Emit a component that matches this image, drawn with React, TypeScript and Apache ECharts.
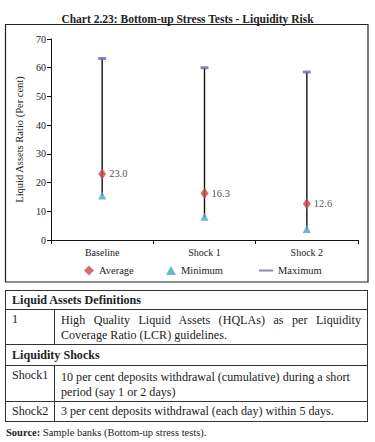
import React, { useEffect, useRef } from "react";
import * as echarts from "echarts";

const titleText = "Chart 2.23: Bottom-up Stress Tests - Liquidity Risk";
const categories = ["Baseline", "Shock 1", "Shock 2"];
const averageValues = [23.0, 16.3, 12.6];
const minimumValues = [15.5, 8.1, 3.8];
const maximumValues = [63.2, 60.0, 58.5];
const yAxisName = "Liquid Assets Ratio (Per cent)";

const definitionsHeader = "Liquid Assets Definitions";
const definitionRows = [["1", "High Quality Liquid Assets (HQLAs) as per Liquidity Coverage Ratio (LCR) guidelines."]];
const shocksHeader = "Liquidity Shocks";
const shockRows = [
  ["Shock1", "10 per cent deposits withdrawal (cumulative) during a short period (say 1 or 2 days)"],
  ["Shock2", "3 per cent deposits withdrawal (each day) within 5 days."],
];
const sourceLabel = "Source:";
const sourceText = " Sample banks (Bottom-up stress tests).";

const FONT = "'Liberation Serif', 'DejaVu Serif', serif";
const RED = "#C8474A";
const CYAN = "#3FA9C5";
const PURPLE = "#7A62A5";

const legendText = { fontFamily: FONT, fontSize: 10.5, color: "#222" };

export default function App() {
  const ref = useRef<HTMLDivElement>(null);
  useEffect(() => {
    if (!ref.current) return;
    const chart = echarts.init(ref.current, null, { renderer: "svg" });
    chart.setOption({
      animation: false,
      textStyle: { fontFamily: FONT },
      title: {
        text: titleText,
        left: "center",
        top: 8,
        textStyle: { fontFamily: FONT, fontSize: 11.5, fontWeight: "bold", color: "#222" },
      },
      graphic: [
        {
          type: "rect",
          shape: { x: 5.5, y: 24.5, width: 362.5, height: 257.5 },
          style: { fill: "none", stroke: "#222", lineWidth: 1.2 },
          silent: true,
        },
      ],
      grid: { left: 51, right: 17, top: 39, bottom: 48 },
      legend: [
        {
          top: 265,
          left: 84,
          padding: 0,
          itemWidth: 10,
          itemHeight: 10,
          textStyle: legendText,
          data: [{ name: "Average", icon: "diamond" }],
        },
        {
          top: 265,
          left: 166,
          padding: 0,
          itemWidth: 10,
          itemHeight: 9,
          textStyle: legendText,
          data: [{ name: "Minimum", icon: "triangle" }],
        },
        {
          top: 265,
          left: 259,
          padding: 0,
          itemWidth: 14,
          itemHeight: 10,
          textStyle: legendText,
          data: [{ name: "Maximum", icon: "path://M0,4 L14,4 L14,6 L0,6 Z" }],
        },
      ],
      xAxis: {
        type: "category",
        data: categories,
        axisLine: { lineStyle: { color: "#111", width: 1 } },
        axisTick: { show: true, length: 4, lineStyle: { color: "#111" } },
        axisLabel: { fontFamily: FONT, fontSize: 10, color: "#222", margin: 7 },
      },
      yAxis: {
        type: "value",
        min: 0,
        max: 70,
        interval: 10,
        name: yAxisName,
        nameLocation: "middle",
        nameGap: 21,
        nameTextStyle: { fontFamily: FONT, fontSize: 10.5, color: "#222" },
        splitLine: { show: false },
        axisLine: { show: true, lineStyle: { color: "#111", width: 1 } },
        axisTick: { show: true, length: 4, lineStyle: { color: "#111" } },
        axisLabel: { fontFamily: FONT, fontSize: 10, color: "#222", margin: 5 },
      },
      series: [
        {
          name: "Range",
          type: "custom",
          z: 1,
          data: categories.map((_, i) => [i, minimumValues[i], maximumValues[i]]),
          renderItem: (params: any, api: any) => {
            const i = api.value(0);
            const lo = api.coord([i, api.value(1)]);
            const hi = api.coord([i, api.value(2)]);
            return {
              type: "line",
              shape: { x1: lo[0], y1: lo[1], x2: hi[0], y2: hi[1] },
              style: { stroke: "#111", lineWidth: 1.4 },
            };
          },
        },
        {
          name: "Minimum",
          type: "scatter",
          z: 3,
          symbol: "triangle",
          symbolSize: [8, 8],
          itemStyle: { color: CYAN },
          data: minimumValues,
        },
        {
          name: "Maximum",
          type: "scatter",
          z: 3,
          symbol: "rect",
          symbolSize: [8, 3],
          itemStyle: { color: PURPLE },
          data: maximumValues,
        },
        {
          name: "Average",
          type: "scatter",
          z: 4,
          symbol: "diamond",
          symbolSize: [8, 11],
          itemStyle: { color: RED },
          label: {
            show: true,
            position: "right",
            distance: 3,
            formatter: (p: any) => Number(p.value).toFixed(1),
            fontFamily: FONT,
            fontSize: 10.5,
            color: "#222",
          },
          data: averageValues,
        },
      ],
    });
    return () => chart.dispose();
  }, []);

  const cell: React.CSSProperties = {
    border: "1px solid #333",
    padding: "0px 6px",
    verticalAlign: "middle",
    lineHeight: "15px",
  };
  const headerCell: React.CSSProperties = { ...cell, fontWeight: "bold" };

  return (
    <div style={{ position: "fixed", left: 0, top: 0, width: 375, height: 442, background: "#fff", fontFamily: FONT, color: "#222" }}>
      <div ref={ref} style={{ position: "absolute", left: 0, top: 0, width: 375, height: 288 }} />
      <table
        style={{
          position: "absolute",
          left: 5,
          top: 290,
          width: 363,
          borderCollapse: "collapse",
          fontSize: 12.1,
          fontFamily: FONT,
          tableLayout: "fixed",
        }}
      >
        <colgroup>
          <col style={{ width: 49 }} />
          <col />
        </colgroup>
        <tbody>
          <tr style={{ height: 19 }}>
            <td colSpan={2} style={headerCell}>{definitionsHeader}</td>
          </tr>
          {definitionRows.map((r) => (
            <tr key={r[0]} style={{ height: 35 }}>
              <td style={{ ...cell, verticalAlign: "top", paddingTop: 2 }}>{r[0]}</td>
              <td style={{ ...cell, textAlign: "justify", paddingTop: 2 }}>{r[1]}</td>
            </tr>
          ))}
          <tr style={{ height: 21 }}>
            <td colSpan={2} style={headerCell}>{shocksHeader}</td>
          </tr>
          <tr style={{ height: 36 }}>
            <td style={{ ...cell, verticalAlign: "top", paddingTop: 2 }}>{shockRows[0][0]}</td>
            <td style={{ ...cell, paddingTop: 2, paddingRight: 4 }}>{shockRows[0][1]}</td>
          </tr>
          <tr style={{ height: 20 }}>
            <td style={cell}>{shockRows[1][0]}</td>
            <td style={cell}>{shockRows[1][1]}</td>
          </tr>
        </tbody>
      </table>
      <div style={{ position: "absolute", left: 6, top: 427, fontSize: 10.5, fontFamily: FONT }}>
        <b>{sourceLabel}</b>
        {sourceText}
      </div>
    </div>
  );
}
